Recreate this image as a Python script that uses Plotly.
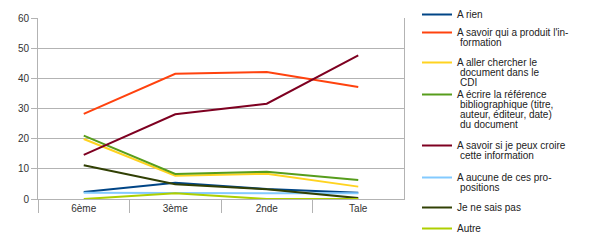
import plotly.graph_objects as go

categories = ["6ème", "3ème", "2nde", "Tale"]

series_labels = [
    ["A rien"],
    ["A savoir qui a produit l'in-", "formation"],
    ["A aller chercher le", "document dans le", "CDI"],
    ["A écrire la référence", "bibliographique (titre,", "auteur, éditeur, date)", "du document"],
    ["A savoir si je peux croire", "cette information"],
    ["A aucune de ces pro-", "positions"],
    ["Je ne sais pas"],
    ["Autre"],
]

a_rien = [2.3, 5.4, 3.3, 2.1]
a_savoir_qui = [28.2, 41.5, 42.1, 37.1]
a_aller = [19.9, 7.7, 8.4, 4.1]
a_ecrire = [21.0, 8.3, 9.0, 6.3]
a_savoir_si = [14.6, 28.1, 31.6, 47.6]
a_aucune = [2.1, 1.9, 1.9, 1.9]
je_ne_sais = [11.2, 4.9, 3.2, 0.3]
autre = [0.0, 1.9, 0.0, 0.0]

series_values = [a_rien, a_savoir_qui, a_aller, a_ecrire, a_savoir_si, a_aucune, je_ne_sais, autre]
colors = ["#004586", "#ff420e", "#ffd320", "#579d1c", "#7e0021", "#83caff", "#314004", "#aecf00"]

# legend first-line pixel y positions (reference)
legend_py = [10, 32, 62, 94, 145, 177, 207, 228]
LINE_GAP = 10.2

L, R, T, B = 38, 189, 18, 44
W, H = 600, 243
plot_h = H - T - B
plot_w = W - L - R
FONT = "Liberation Sans, Arial, sans-serif"

fig = go.Figure()
for i, lines in enumerate(series_labels):
    lname = "legend" if i == 0 else f"legend{i+1}"
    fig.add_trace(go.Scatter(
        x=categories, y=series_values[i], name=lines[0], mode="lines",
        line=dict(color=colors[i], width=2), legend=lname,
    ))

layout_legends = {}
annotations = []
for i, py in enumerate(legend_py):
    lname = "legend" if i == 0 else f"legend{i+1}"
    layout_legends[lname] = dict(
        xref="container", yref="container",
        x=417 / W, xanchor="left",
        y=1 - (py - 14) / H, yanchor="top",
        font=dict(family=FONT, size=10, color="#222"),
        bgcolor="rgba(0,0,0,0)", borderwidth=0,
        itemwidth=30, tracegroupgap=0,
    )
    for k, txt in enumerate(series_labels[i][1:], start=1):
        annotations.append(dict(
            text=txt, showarrow=False, xref="paper", yref="paper",
            x=(466 - L) / plot_w, xanchor="left",
            y=(H - B - (py + k * LINE_GAP)) / plot_h, yanchor="middle",
            font=dict(family=FONT, size=10, color="#222"),
        ))

fig.update_layout(
    width=W, height=H,
    margin=dict(l=L, r=R, t=T, b=B, pad=0),
    paper_bgcolor="white", plot_bgcolor="white",
    font=dict(family=FONT, size=10, color="#333"),
    showlegend=True,
    annotations=annotations,
    **layout_legends,
)
fig.update_xaxes(
    type="category", range=[-0.5, 3.5], tickson="boundaries",
    ticks="outside", ticklen=13, tickcolor="#b3b3b3", tickwidth=1,
    showgrid=False, showline=True, linecolor="#b3b3b3", linewidth=1,
    tickfont=dict(size=10, color="#333"), ticklabelstandoff=0,
)
fig.update_yaxes(
    range=[0, 60], dtick=10, ticks="outside", ticklen=6, tickcolor="#b3b3b3",
    showgrid=True, gridcolor="#b3b3b3", gridwidth=1,
    showline=True, linecolor="#b3b3b3", mirror=True, zeroline=False,
    tickfont=dict(size=10, color="#333"),
)

fig.write_html("out.html")
